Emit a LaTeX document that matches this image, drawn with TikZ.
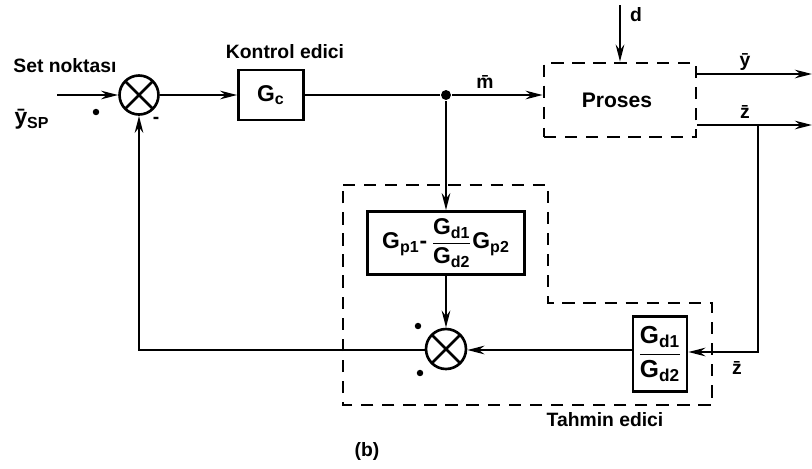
\documentclass[tikz,border=0pt]{standalone}
\usepackage{amsmath}
\usepackage{fontspec}
\setmainfont{Liberation Sans}
\usetikzlibrary{arrows.meta,calc,positioning}
\tikzset{
  >={Stealth[length=3.4mm,width=1.7mm]},
  line cap=round,
  line join=round,
  lbl/.style={font=\bfseries\fontsize{11}{13}\selectfont, inner sep=1pt},
  block/.style={draw, align=center, inner sep=1pt, font=\bfseries\fontsize{13}{15}\selectfont},
  dashbox/.style={draw, dash pattern=on 7pt off 5pt},
  sumnode/.style={draw, circle, minimum size=0.78cm, inner sep=0pt,
    path picture={
      \draw (path picture bounding box.north west) -- (path picture bounding box.south east)
            (path picture bounding box.north east) -- (path picture bounding box.south west);
    }},
  arrow/.style={->},
  point/.style={circle, fill, inner sep=2pt},
  spot/.style={circle, fill, inner sep=1.3pt}
}

\begin{document}
\begin{tikzpicture}[x=0.02cm, y=-0.02cm, line width=1.5pt]
	\useasboundingbox (0,0) rectangle (812,468);

	% summing points
	\node[sumnode] (sumA) at (139, 95) {};
	\node[sumnode, minimum size=0.8cm] (sumB) at (446, 349) {};

	% blocks
	\node[block, minimum width=1.3cm, minimum height=1cm] (gc) at (271, 95) {G\textsubscript{c}};
	\node[dashbox, minimum width=3.04cm, minimum height=1.48cm] (proc) at (620, 100) {};
	\node[lbl, font=\bfseries\fontsize{12}{14}\selectfont] at (617, 100) {Proses};
	\node[block, minimum width=3.14cm, minimum height=1.26cm] (gp) at (446, 243)
		{G\textsubscript{p1}-\,$\dfrac{\mbox{G\textsubscript{d1}}}{\mbox{G\textsubscript{d2}}}$G\textsubscript{p2}};
	\node[block, minimum width=1.08cm, minimum height=1.5cm, font=\bfseries\fontsize{14}{16}\selectfont] (gd) at (660, 354)
		{$\dfrac{\mbox{G\textsubscript{d1}}}{\mbox{G\textsubscript{d2}}}$};

	% estimator boundary
	\draw[dash pattern=on 7pt off 5pt] (343, 185) -- (548, 185) -- (548, 303) -- (712, 303)
		-- (712, 405) -- (343, 405) -- cycle;

	% helper points
	\coordinate (inp) at (57, 95);
	\node[point] (junc) at (446, 95) {};
	\coordinate (dtop) at (620, 5);
	\coordinate (yout) at (812, 74);
	\coordinate (zout) at (812, 125);
	\coordinate (ztap) at (758, 125);
	\coordinate (zcorner) at (758, 352);
	\coordinate (fbcorner) at (139, 350);

	% forward path
	\draw[arrow] (inp) -- (sumA);
	\draw[arrow] (sumA) -- (gc);
	\draw (gc) -- (junc);
	\draw[arrow] (junc) -- (proc.west |- junc);
	\draw[arrow] (dtop) -- (proc.north);
	\draw[arrow] (proc.east |- yout) -- (yout);
	\draw[arrow] (proc.east |- zout) -- (zout);

	% estimator path
	\draw[arrow] (junc) -- (gp);
	\draw[arrow] (gp) -- (sumB);
	\draw[arrow] (ztap) -- (zcorner) -- (gd.east |- zcorner);
	\draw[arrow] (gd.west |- fbcorner) -- (sumB.east |- fbcorner);
	\draw[arrow] (sumB.west |- fbcorner) -- (fbcorner) -- (sumA.south);

	% Add labels
	\node[lbl] at (65, 66) {Set noktası};
	\node[lbl, font=\bfseries\fontsize{13}{15}\selectfont] at (32, 119) {\=y\textsubscript{SP}};
	\node[spot] at (96, 112) {};
	\node[lbl] at (156, 120) {-};
	\node[lbl] at (285, 52) {Kontrol edici};
	\node[lbl] at (485, 82) {\=m};
	\node[lbl] at (636, 15) {d};
	\node[lbl] at (745, 62) {\=y};
	\node[lbl] at (745, 112) {\=z};
	\node[lbl] at (737, 368) {\=z};
	\node[spot] at (418, 326) {};
	\node[spot] at (420, 373) {};
	\node[lbl] at (605, 420) {Tahmin edici};
	\node[lbl] at (367, 451) {(b)};
\end{tikzpicture}
\end{document}
